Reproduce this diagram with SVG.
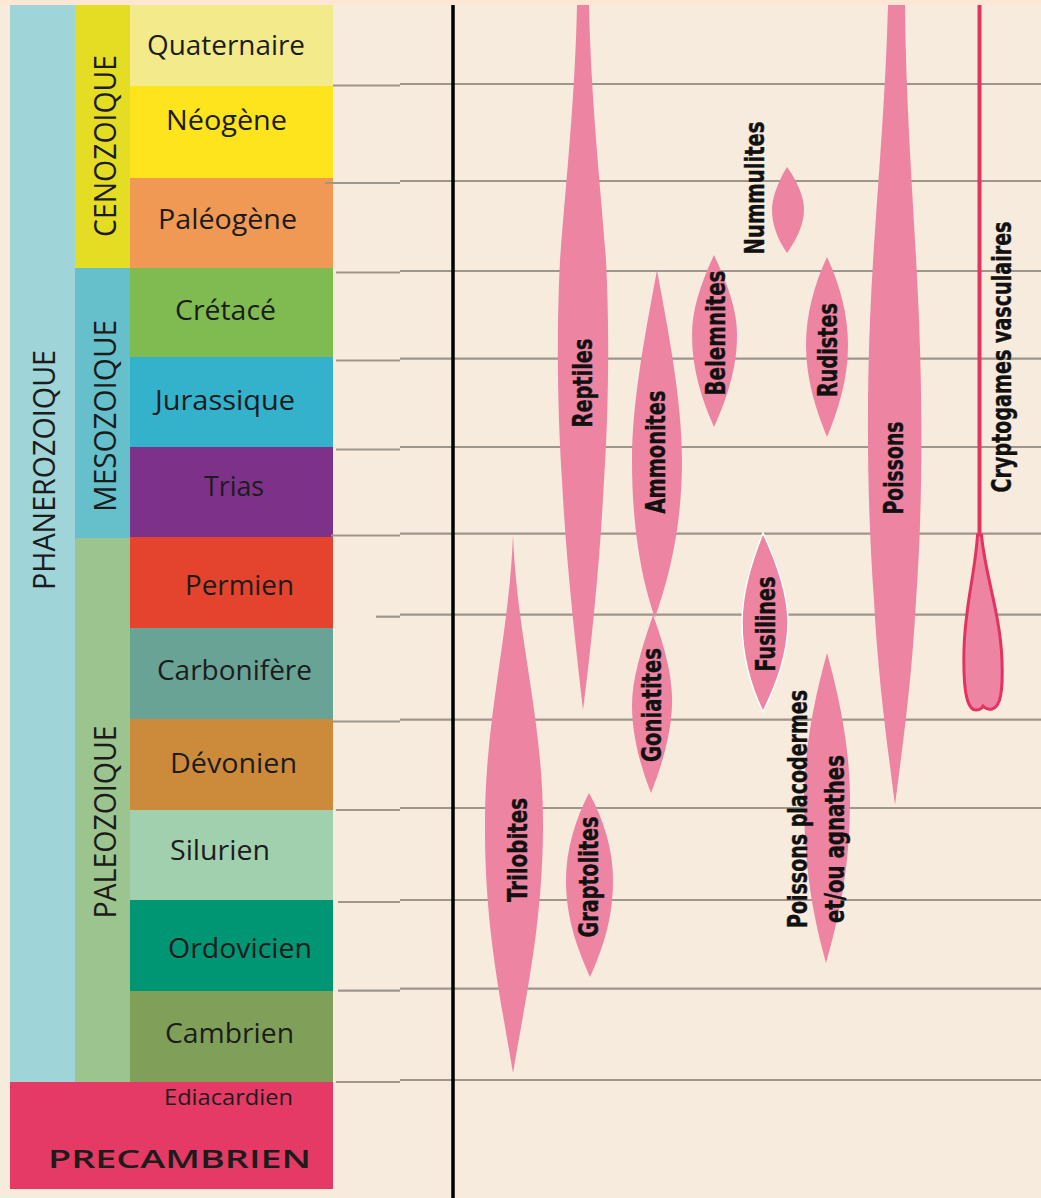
<svg xmlns="http://www.w3.org/2000/svg" width="1041" height="1198" viewBox="0 0 1041 1198">
<style>
.per{font-family:"Open Sans","Noto Sans","Liberation Sans",sans-serif;font-size:27px;fill:#1c1c1c;text-anchor:middle}
.era{font-family:"Open Sans","Noto Sans","Liberation Sans",sans-serif;font-size:31px;fill:#1c1c1c;text-anchor:middle}
.sp{font-family:"DejaVu Sans Condensed","Liberation Sans",sans-serif;font-weight:bold;font-size:26px;fill:#111;text-anchor:middle;stroke:#111;stroke-width:0.4}
.blob{fill:#ed84a2}
.grid line{stroke:#9e958b;stroke-width:2.2}
</style>
<rect x="0" y="0" width="1041" height="1198" fill="#f6ebdd"/>
<rect x="0" y="0" width="1041" height="5" fill="#fde6d4"/>

<g id="eon-phanerozoique">
<rect x="10" y="5" width="65" height="1077" fill="#9fd5d8"/>
<text class="era" transform="translate(55,470) rotate(-90)" textLength="240" lengthAdjust="spacingAndGlyphs">PHANEROZOIQUE</text>
</g>
<g id="era-cenozoique">
<rect x="75" y="5" width="55" height="263" fill="#e5dc24"/>
<text class="era" transform="translate(116,146) rotate(-90)" textLength="182" lengthAdjust="spacingAndGlyphs">CENOZOIQUE</text>
</g>
<g id="era-mesozoique">
<rect x="75" y="268" width="55" height="270" fill="#66c0cb"/>
<text class="era" transform="translate(116,416) rotate(-90)" textLength="192" lengthAdjust="spacingAndGlyphs">MESOZOIQUE</text>
</g>
<g id="era-paleozoique">
<rect x="75" y="538" width="55" height="544" fill="#9cc48f"/>
<text class="era" transform="translate(116,822) rotate(-90)" textLength="193" lengthAdjust="spacingAndGlyphs">PALEOZOIQUE</text>
</g>

<g id="p-quaternaire"><rect x="130" y="5" width="203" height="81" fill="#f3eb8b"/><text class="per" x="226" y="55" textLength="158" lengthAdjust="spacingAndGlyphs">Quaternaire</text></g>
<g id="p-neogene"><rect x="130" y="86" width="203" height="92" fill="#fde41d"/><text class="per" x="226.5" y="130" textLength="121" lengthAdjust="spacingAndGlyphs">Néogène</text></g>
<g id="p-paleogene"><rect x="130" y="178" width="203" height="90" fill="#f09955"/><text class="per" x="227.5" y="229" textLength="139" lengthAdjust="spacingAndGlyphs">Paléogène</text></g>
<g id="p-cretace"><rect x="130" y="268" width="203" height="89" fill="#7fbb50"/><text class="per" x="225.5" y="320" textLength="101" lengthAdjust="spacingAndGlyphs">Crétacé</text></g>
<g id="p-jurassique"><rect x="130" y="357" width="203" height="90" fill="#34b1cb"/><text class="per" x="225" y="410" textLength="140" lengthAdjust="spacingAndGlyphs">Jurassique</text></g>
<g id="p-trias"><rect x="130" y="447" width="203" height="90" fill="#7d3188"/><text class="per" x="234" y="496" textLength="60" lengthAdjust="spacingAndGlyphs">Trias</text></g>
<g id="p-permien"><rect x="130" y="537" width="203" height="91" fill="#e4432e"/><text class="per" x="239.5" y="595" textLength="109" lengthAdjust="spacingAndGlyphs">Permien</text></g>
<g id="p-carbonifere"><rect x="130" y="628" width="203" height="91" fill="#68a396"/><text class="per" x="234.5" y="680" textLength="155" lengthAdjust="spacingAndGlyphs">Carbonifère</text></g>
<g id="p-devonien"><rect x="130" y="719" width="203" height="91" fill="#cc8b3b"/><text class="per" x="233.5" y="773" textLength="127" lengthAdjust="spacingAndGlyphs">Dévonien</text></g>
<g id="p-silurien"><rect x="130" y="810" width="203" height="90" fill="#a1d0ae"/><text class="per" x="220" y="860" textLength="100" lengthAdjust="spacingAndGlyphs">Silurien</text></g>
<g id="p-ordovicien"><rect x="130" y="900" width="203" height="91" fill="#009674"/><text class="per" x="240" y="958" textLength="144" lengthAdjust="spacingAndGlyphs">Ordovicien</text></g>
<g id="p-cambrien"><rect x="130" y="991" width="203" height="91" fill="#80a05a"/><text class="per" x="229.5" y="1043" textLength="129" lengthAdjust="spacingAndGlyphs">Cambrien</text></g>
<g id="precambrien">
<rect x="10" y="1082" width="323" height="107" fill="#e43a65"/>
<text class="per" x="228.5" y="1105" style="font-size:22px" textLength="129" lengthAdjust="spacingAndGlyphs">Ediacardien</text>
<text class="per" x="179.5" y="1168" style="font-size:25px;font-weight:600" textLength="263" lengthAdjust="spacingAndGlyphs">PRECAMBRIEN</text>
</g>

<g id="connectors" class="grid">
<line x1="333" y1="85.5" x2="400" y2="85.5"/><line x1="400" y1="84" x2="1041" y2="84"/>
<line x1="325" y1="183" x2="400" y2="183"/><line x1="400" y1="181" x2="1041" y2="181"/>
<line x1="336" y1="272.5" x2="400" y2="272.5"/><line x1="400" y1="271" x2="1041" y2="271"/>
<line x1="336" y1="360.5" x2="400" y2="360.5"/><line x1="400" y1="358.7" x2="1041" y2="358.7"/>
<line x1="336" y1="449.5" x2="400" y2="449.5"/><line x1="400" y1="447" x2="1041" y2="447"/>
<line x1="331" y1="535.5" x2="400" y2="535.5"/><line x1="400" y1="533.7" x2="1041" y2="533.7"/>
<line x1="376" y1="616.7" x2="400" y2="616.7"/><line x1="400" y1="614.7" x2="1041" y2="614.7"/>
<line x1="333" y1="721.5" x2="400" y2="721.5"/><line x1="400" y1="719.7" x2="1041" y2="719.7"/>
<line x1="336" y1="810" x2="400" y2="810"/><line x1="400" y1="808" x2="1041" y2="808"/>
<line x1="338" y1="902" x2="400" y2="902"/><line x1="400" y1="900" x2="1041" y2="900"/>
<line x1="338" y1="990.7" x2="400" y2="990.7"/><line x1="400" y1="988.7" x2="1041" y2="988.7"/>
<line x1="336" y1="1082" x2="400" y2="1082"/><line x1="400" y1="1080" x2="1041" y2="1080"/>
<line x1="453" y1="5" x2="453" y2="1198" style="stroke:#000;stroke-width:3.5"/>
</g>

<g id="reptiles">
<path class="blob" d="M577,5 L589,5 C591,100 600,180 606,260 C610,340 608,420 604,480 C600,560 592,640 583,710 C575,640 566,560 562,480 C558,420 556,340 560,260 C566,180 575,100 577,5 Z"/>
<text class="sp" transform="translate(592,383) rotate(-90)" textLength="89" lengthAdjust="spacingAndGlyphs">Reptiles</text>
</g>
<g id="poissons">
<path class="blob" d="M888,5 L905,5 C906,120 915,220 919,320 C923,420 922,520 916,600 C912,680 902,750 895,805 C888,750 878,680 874,600 C868,520 866,420 870,320 C874,220 885,120 888,5 Z"/>
<text class="sp" transform="translate(903,468) rotate(-90)" textLength="93" lengthAdjust="spacingAndGlyphs">Poissons</text>
</g>
<g id="ammonites">
<path class="blob" d="M657,270 C668,330 682,400 682,460 C682,530 668,580 655,618 C642,580 632,530 632,460 C632,400 646,330 657,270 Z"/>
<text class="sp" transform="translate(665,452) rotate(-90)" textLength="123" lengthAdjust="spacingAndGlyphs">Ammonites</text>
</g>
<g id="goniatites">
<path class="blob" d="M653,615 C666,650 673,680 672,705 C671,735 662,765 651,793 C640,765 632,735 632,705 C632,680 641,650 653,615 Z"/>
<text class="sp" transform="translate(661,705) rotate(-90)" textLength="114" lengthAdjust="spacingAndGlyphs">Goniatites</text>
</g>
<g id="belemnites">
<path class="blob" d="M714,255 C728,285 737,310 737,335 C737,370 726,400 714,427 C702,400 692,370 692,335 C692,310 700,285 714,255 Z"/>
<text class="sp" transform="translate(725,333) rotate(-90)" textLength="125" lengthAdjust="spacingAndGlyphs">Belemnites</text>
</g>
<g id="nummulites">
<path class="blob" d="M787,167 C800,185 804,200 804,210 C804,225 796,240 787,253 C778,240 772,225 772,210 C772,200 776,185 787,167 Z"/>
<text class="sp" transform="translate(764,188) rotate(-90)" textLength="133" lengthAdjust="spacingAndGlyphs">Nummulites</text>
</g>
<g id="rudistes">
<path class="blob" d="M827,257 C840,285 848,315 848,345 C848,380 838,410 827,437 C816,410 806,380 806,345 C806,315 814,285 827,257 Z"/>
<text class="sp" transform="translate(837,350) rotate(-90)" textLength="94" lengthAdjust="spacingAndGlyphs">Rudistes</text>
</g>
<g id="fusilines">
<path class="blob" stroke="#ffffff" stroke-width="1.5" d="M763,533 C778,565 788,595 788,622 C788,655 776,685 763,712 C750,685 742,655 742,622 C742,595 750,565 763,533 Z"/>
<text class="sp" transform="translate(775,624) rotate(-90)" textLength="95" lengthAdjust="spacingAndGlyphs">Fusilines</text>
</g>
<g id="placodermes">
<path class="blob" d="M827,653 C840,700 850,750 850,800 C850,870 838,920 826,963 C814,920 804,870 804,800 C804,750 814,700 827,653 Z"/>
<text class="sp" transform="translate(807,809) rotate(-90)" textLength="238" lengthAdjust="spacingAndGlyphs">Poissons placodermes</text>
<text class="sp" transform="translate(844,839) rotate(-90)" textLength="168" lengthAdjust="spacingAndGlyphs">et/ou agnathes</text>
</g>
<g id="trilobites">
<path class="blob" d="M513,535 C517,640 544,720 543,830 C542,930 525,1000 513,1073 C501,1000 485,930 485,830 C484,720 509,640 513,535 Z"/>
<text class="sp" transform="translate(527,850) rotate(-90)" textLength="104" lengthAdjust="spacingAndGlyphs">Trilobites</text>
</g>
<g id="graptolites">
<path class="blob" d="M589,793 C604,820 613,850 613,880 C613,920 602,950 590,977 C578,950 566,920 566,880 C566,850 575,820 589,793 Z"/>
<text class="sp" transform="translate(598,877) rotate(-90)" textLength="121" lengthAdjust="spacingAndGlyphs">Graptolites</text>
</g>
<g id="cryptogames">
<line x1="979.5" y1="5" x2="979.5" y2="540" stroke="#e2345f" stroke-width="4"/>
<path fill="#ed84a2" stroke="#e2345f" stroke-width="3" d="M977.5,535 C975,575 965,605 964,650 C963,695 968,710 976,710 C980,710 982,708 983,706 C985,708 988,710 992,709 C1001,707 1003,690 1002,660 C1000,612 985,575 981.5,535 Z"/>
<text class="sp" transform="translate(1011,357) rotate(-90)" textLength="271" lengthAdjust="spacingAndGlyphs">Cryptogames vasculaires</text>
</g>
</svg>
